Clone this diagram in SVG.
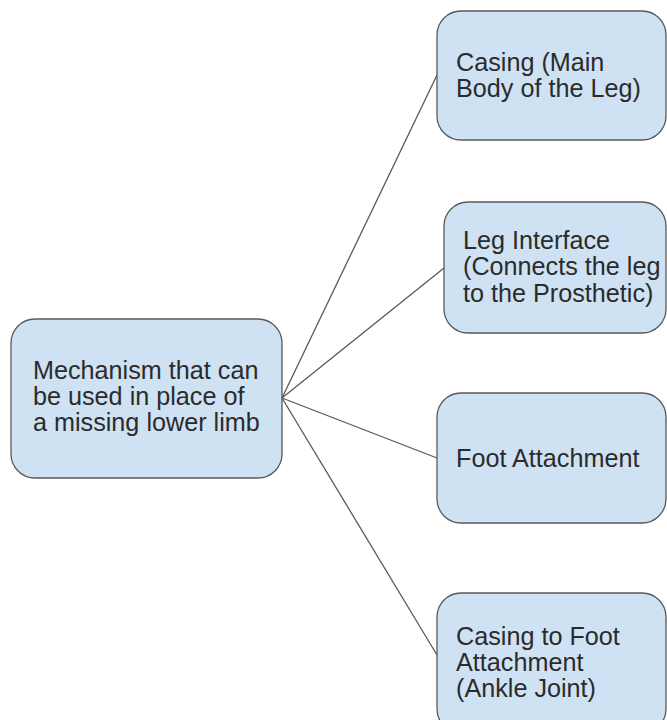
<svg xmlns="http://www.w3.org/2000/svg" width="667" height="720" viewBox="0 0 667 720">
<style>
.box{fill:#cfe2f3;stroke:#595959;stroke-width:1.3}
.t{font-family:"Liberation Sans",Arial,sans-serif;font-size:25.2px;fill:#2b2b2b}
.c{stroke:#595959;stroke-width:1.3;fill:none}
</style>
<rect width="667" height="720" fill="#ffffff"/>
<g id="connectors">
<line class="c" x1="282" y1="398" x2="437" y2="75"/>
<line class="c" x1="282" y1="398" x2="444" y2="268"/>
<line class="c" x1="282" y1="398" x2="437" y2="458"/>
<line class="c" x1="282" y1="398" x2="437" y2="655"/>
</g>
<g id="main">
<rect class="box" x="11" y="319" width="271" height="159" rx="24"/>
<text class="t"><tspan x="33" y="379">Mechanism that can</tspan><tspan x="33" y="405">be used in place of</tspan><tspan x="33" y="431">a missing lower limb</tspan></text>
</g>
<g id="casing">
<rect class="box" x="437" y="11" width="229" height="129" rx="24"/>
<text class="t"><tspan x="456" y="71">Casing (Main</tspan><tspan x="456" y="97">Body of the Leg)</tspan></text>
</g>
<g id="interface">
<rect class="box" x="444" y="202" width="222" height="131" rx="24"/>
<text class="t"><tspan x="463" y="249">Leg Interface</tspan><tspan x="463" y="275">(Connects the leg</tspan><tspan x="463" y="302">to the Prosthetic)</tspan></text>
</g>
<g id="foot">
<rect class="box" x="437" y="393" width="229" height="130" rx="24"/>
<text class="t" x="456" y="467">Foot Attachment</text>
</g>
<g id="ankle">
<rect class="box" x="437" y="593" width="229" height="140" rx="24"/>
<text class="t"><tspan x="456" y="645">Casing to Foot</tspan><tspan x="456" y="671">Attachment</tspan><tspan x="456" y="697">(Ankle Joint)</tspan></text>
</g>
</svg>
